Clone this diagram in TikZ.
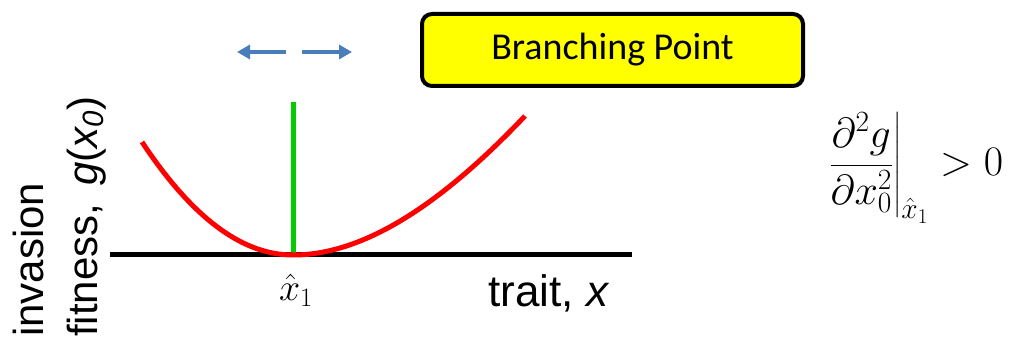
\RequirePackage{fix-cm}
\documentclass[tikz,border=0pt]{standalone}
\usepackage{amsmath}
\usepackage{fontspec}
\setmainfont{Liberation Sans}
\newfontfamily\boxfont{Carlito}
\usetikzlibrary{arrows.meta}
\definecolor{curvered}{RGB}{255,0,0}
\definecolor{markgreen}{RGB}{0,204,0}
\definecolor{arrowblue}{RGB}{74,126,187}
\definecolor{boxyellow}{RGB}{255,255,0}
\tikzset{
  axisline/.style={line width=5pt, black},
  fitcurve/.style={line width=5pt, curvered},
  markline/.style={line width=5pt, markgreen},
  dirarrow/.style={line width=4pt, arrowblue, -{Triangle[length=13pt,width=14pt]}},
  labelbox/.style={draw=black, line width=4pt, fill=boxyellow, rounded corners=10pt,
     minimum width=381pt, minimum height=72pt, inner sep=0pt,
     font=\boxfont\fontsize{38}{44}\selectfont},
  axislabel/.style={font=\fontsize{44}{50}\selectfont, inner sep=0pt},
  sidelabel/.style={font=\fontsize{42}{48}\selectfont, inner sep=0pt},
  mathlabel/.style={font=\fontsize{38}{44}\selectfont, inner sep=0pt},
  condlabel/.style={font=\fontsize{42}{48}\selectfont, inner sep=0pt},
}
\begin{document}
\begin{tikzpicture}[x=1pt,y=-1pt]
\useasboundingbox (0,0) rectangle (1010,339);
% axis
\coordinate (axL) at (110,255);
\coordinate (axR) at (632,255);
\draw[axisline] (axL) -- (axR);
% green vertical
\coordinate (gTop) at (293,102);
\coordinate (gBot) at (293,255);
\draw[markline] (gTop) -- (gBot);
% red curve
\coordinate (cL) at (142,142);
\coordinate (cM) at (293,255);
\coordinate (cR) at (525,116);
\draw[fitcurve] (cL) .. controls (195,222) and (245,255) .. (cM)
   .. controls (370,255) and (450,195) .. (cR);
% blue arrows
\coordinate (aLs) at (286,52);
\coordinate (aLe) at (237,52);
\coordinate (aRs) at (302,52);
\coordinate (aRe) at (352,52);
\draw[dirarrow] (aLs) -- (aLe);
\draw[dirarrow] (aRs) -- (aRe);
% yellow box
\node[labelbox] (bp) at (612.5,50) {Branching Point};
% labels
\node[mathlabel] (xhat) at (296,290) {$\hat{x}_1$};
\node[axislabel, anchor=base west] (trait) at (488,306) {trait, \textit{x}};
\node[sidelabel, rotate=90, anchor=base west] (inv) at (43,337) {invasion};
\node[sidelabel, rotate=90, anchor=base west] (fit) at (97,337) {fitness,\hspace{0.15em} \textit{g}(\textit{x\textsubscript{0}})};
% math
\node[condlabel, anchor=west] (cond) at (828,168)
  {$\displaystyle \left.\frac{\partial^2 g}{\partial x_0^2}\right|_{\hat{x}_1} > 0$};
\end{tikzpicture}
\end{document}
